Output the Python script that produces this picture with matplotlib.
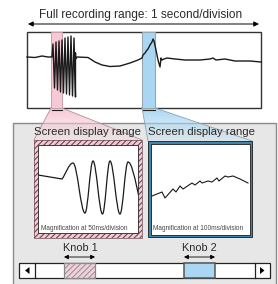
import numpy as np
from matplotlib import pyplot as plt
from matplotlib.patches import Rectangle, Polygon, FancyArrowPatch, PathPatch
from matplotlib.path import Path

plt.rcParams['font.family'] = ['Liberation Sans', 'DejaVu Sans']
plt.rcParams['hatch.linewidth'] = 0.8

# --- data (picture coordinates, pixels, y downwards) ---
titleText = "Full recording range: 1 second/division"
screenLabel = "Screen display range"
magLabels = ["Magnification at 50ms/division", "Magnification at 100ms/division"]
knobLabels = ["Knob 1", "Knob 2"]

# overview waveform
waveX = [27, 35, 42, 48, 52,
         53, 54.5, 56, 57.5, 59, 60.5, 62, 63.5, 65, 66.5, 68, 69.5, 71, 72.5, 74, 75.5,
         75.5, 75.5, 77, 88, 95, 102, 110, 120, 130, 138,
         142, 143, 145, 147, 148, 150, 152, 153, 154, 156, 158, 160, 161, 162, 164,
         167, 175, 185, 200, 210, 213, 216, 225, 235, 250, 261]
waveY = [57, 57.5, 56, 57, 57,
         44, 88, 42, 90, 41, 92, 40, 93, 38, 94, 37, 95, 36, 96, 38, 97,
         53, 59, 57, 57.5, 62, 65, 66.5, 66, 63, 60,
         58, 55, 53, 50, 49, 45, 42, 39, 41, 50, 60, 67, 58, 60, 59,
         58, 59, 60, 60, 59, 58, 60, 59, 61, 61, 62]

# zoom 1 waveform: flat start then extrema
zoom1Start = [(38, 175), (62, 179)]
zoom1ExtX = [73, 85, 93, 102.5, 110, 120, 128, 146]
zoom1ExtY = [163, 213, 161, 214, 161, 214, 162, 214]

# zoom 2 waveform
zoom2X = [152, 162, 165, 173, 176, 180, 183, 192, 195, 200, 202, 208, 212, 217, 219, 225, 228, 233, 240, 248]
zoom2Y = [196, 192, 198, 189, 192, 186, 189, 183, 185, 181, 183, 181, 182, 178, 181, 176, 177, 176, 179, 183]

pink = '#f6c9d5'
pinkEdge = '#c7a0aa'
blue = '#a9d7f3'
blueEdge = '#8fa9b8'
txt = '#2a2a2a'

fig = plt.figure(figsize=(2.78, 2.84), dpi=100)
ax = fig.add_axes([0, 0, 1, 1])
ax.set_xlim(0, 278)
ax.set_ylim(284, 0)
ax.axis('off')

# title and range arrow
ax.text(141, 15, titleText, ha='center', va='center', fontsize=8.6, color=txt)
ax.add_patch(FancyArrowPatch((28, 24), (259, 24), arrowstyle='<|-|>,head_length=3,head_width=1.5',
                             color='black', lw=0.7, shrinkA=0, shrinkB=0))

# gray panel
ax.add_patch(Rectangle((13, 123), 263, 170, facecolor='#e7e7e7', edgecolor='#8a8a8a', lw=1.0, zorder=1))

# top overview box
ax.add_patch(Rectangle((27, 32), 234, 76, facecolor='white', edgecolor='#333333', lw=1.0, zorder=2))
ax.add_patch(Rectangle((51, 32), 11, 76, facecolor=pink, edgecolor=pinkEdge, lw=0.7, zorder=3))
ax.add_patch(Rectangle((142, 32), 13, 76, facecolor=blue, edgecolor='#9aa4ab', lw=0.8, zorder=3))
ax.plot(waveX, waveY, color='#1a1a1a', lw=1.0, zorder=4)

# connecting trapezoids with fading fill
def trapezoid(pts, color, edge):
    poly = Polygon(pts, closed=True, facecolor='none', edgecolor='none', zorder=2)
    ax.add_patch(poly)
    ys = [p[1] for p in pts]
    xs = [p[0] for p in pts]
    grad = np.linspace(1, 0.15, 64).reshape(-1, 1)
    rgb = np.array(plt.matplotlib.colors.to_rgb(color))
    img = np.ones((64, 1, 4))
    img[..., :3] = rgb
    img[..., 3] = grad
    im = ax.imshow(img, extent=(min(xs), max(xs), max(ys), min(ys)), aspect='auto', zorder=2,
                   interpolation='bilinear')
    im.set_clip_path(poly)
    ax.plot([pts[0][0], pts[3][0]], [pts[0][1], pts[3][1]], color=edge, lw=0.6, zorder=2)
    ax.plot([pts[1][0], pts[2][0]], [pts[1][1], pts[2][1]], color=edge, lw=0.6, zorder=2)

trapezoid([(51, 108), (62, 108), (142, 140), (34, 140)], pink, '#b58e98')
trapezoid([(142, 108), (155, 108), (252, 141), (148, 141)], blue, '#8aa3b3')
ax.plot([52, 62], [110, 110], color='#222222', lw=0.8, zorder=3)
ax.plot([143, 155], [110, 110], color='#222222', lw=0.8, zorder=3)

# screen range labels
ax.text(88, 132, screenLabel, ha='center', va='center', fontsize=8.2, color=txt, zorder=5)
ax.text(202, 132, screenLabel, ha='center', va='center', fontsize=8.2, color=txt, zorder=5)

# zoom box 1 (hatched pink frame)
ax.add_patch(Rectangle((34, 140), 108, 98, facecolor=pink, edgecolor='#6a4a52', hatch='//////',
                       lw=0, zorder=3))
ax.add_patch(Rectangle((34, 140), 108, 98, facecolor='none', edgecolor='#6a4a52', lw=0.5, zorder=3))
inner1 = Rectangle((38, 144.5), 100, 88.5, facecolor='white', edgecolor='#222222', lw=0.6, zorder=4)
ax.add_patch(inner1)

verts = list(zoom1Start)
codes = [Path.MOVETO, Path.LINETO]
px, py = zoom1Start[-1]
for i, (ex, ey) in enumerate(zip(zoom1ExtX, zoom1ExtY)):
    dx = ex - px
    k = 0.364
    if i == 0:
        c1 = (px + dx * 0.3, py - 4)
    else:
        c1 = (px + dx * k, py)
    verts += [c1, (ex - dx * k, ey), (ex, ey)]
    codes += [Path.CURVE4] * 3
    px, py = ex, ey
wave1 = PathPatch(Path(verts, codes), facecolor='none', edgecolor='#1a1a1a', lw=0.9, zorder=5)
ax.add_patch(wave1)
wave1.set_clip_path(inner1)
ax.text(41, 228, magLabels[0], ha='left', va='center', fontsize=4.7, color='#444444', zorder=5)

# zoom box 2 (blue frame)
ax.add_patch(Rectangle((148, 141), 104, 96, facecolor='#3f84ad', edgecolor='#1a1a1a', lw=0.6, zorder=3))
ax.add_patch(Rectangle((150.5, 143.5), 99, 91, facecolor='white', edgecolor='#1a1a1a', lw=0.6, zorder=4))
ax.plot(zoom2X, zoom2Y, color='#1a1a1a', lw=0.8, zorder=5)
ax.text(153, 228, magLabels[1], ha='left', va='center', fontsize=4.7, color='#444444', zorder=5)

# knobs labels and arrows
for lbl, cx, x0, x1 in [(knobLabels[0], 80, 64, 95), (knobLabels[1], 199, 184, 215)]:
    ax.text(cx, 248, lbl, ha='center', va='center', fontsize=7.8, color=txt, zorder=5)
    ax.add_patch(FancyArrowPatch((x0, 257), (x1, 257), arrowstyle='<|-|>,head_length=2.5,head_width=1.3',
                                 color='black', lw=0.6, shrinkA=0, shrinkB=0, zorder=5))

# scroll bar
ax.add_patch(Rectangle((19, 263), 251, 15, facecolor='white', edgecolor='#222222', lw=0.9, zorder=3))
ax.plot([35, 35], [263, 278], color='#222222', lw=0.9, zorder=4)
ax.plot([254.5, 254.5], [263, 278], color='#222222', lw=0.9, zorder=4)
ax.add_patch(Polygon([(25, 270.5), (29.5, 267), (29.5, 274)], closed=True, facecolor='black', zorder=5))
ax.add_patch(Polygon([(264.5, 270.5), (260, 267), (260, 274)], closed=True, facecolor='black', zorder=5))
ax.add_patch(Rectangle((64, 263), 31, 15, facecolor='#edd3da', edgecolor='#a88f96', hatch='//////',
                       lw=0, zorder=4))
ax.add_patch(Rectangle((64, 263), 31, 15, facecolor='none', edgecolor='#8a8a8a', lw=0.9, zorder=4))
ax.add_patch(Rectangle((184, 263), 31, 15, facecolor=blue, edgecolor='#555555', lw=1.1, zorder=4))

fig.savefig('out.png', dpi=100)
